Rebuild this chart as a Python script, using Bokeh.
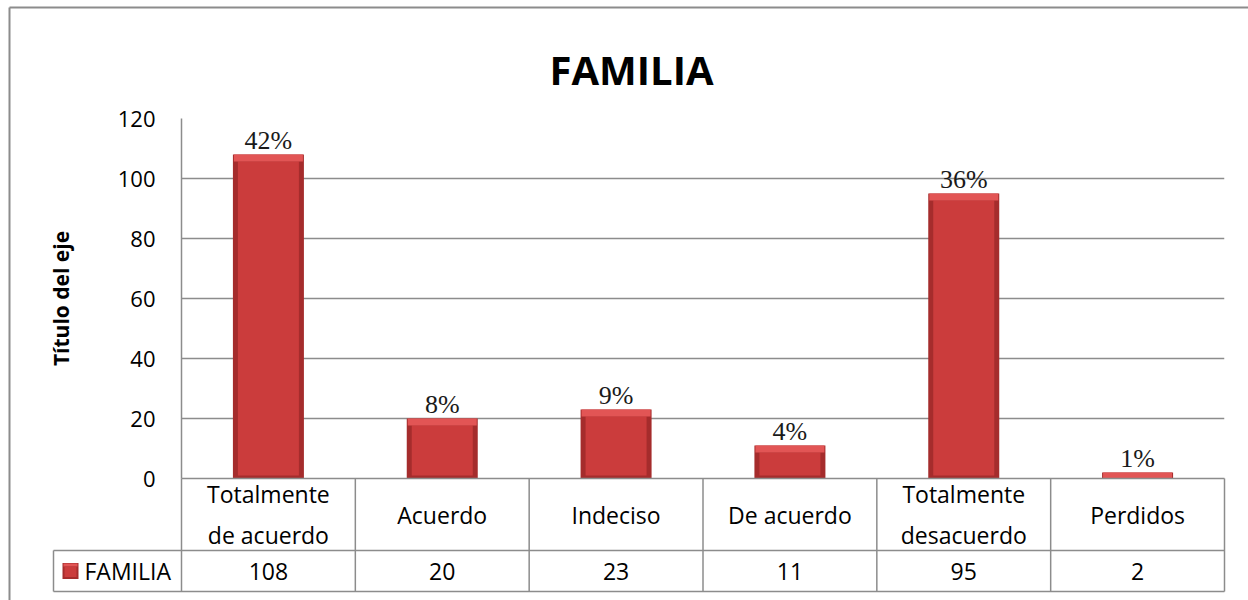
import numpy as np
from bokeh.plotting import figure
from bokeh.models import Range1d, FixedTicker
from bokeh.core.properties import value
from bokeh.embed import file_html
from bokeh.resources import INLINE

# ---- data ----
categories = ["Totalmente\nde acuerdo", "Acuerdo", "Indeciso", "De acuerdo", "Totalmente\ndesacuerdo", "Perdidos"]
counts = [108, 20, 23, 11, 95, 2]
pct_labels = ["42%", "8%", "9%", "4%", "36%", "1%"]
y_ticks = [0, 20, 40, 60, 80, 100, 120]
series_name = "FAMILIA"
chart_title = "FAMILIA"
y_title = "Título del eje"

# ---- layout constants (pixels) ----
W, H = 1248, 600
FL, FR, FT, FB = 181, 24, 118, 122          # frame borders
frame_w = W - FL - FR
frame_h = H - FT - FB
n = len(categories)
ux = frame_w / n            # px per x unit
uy = frame_h / 120.0        # px per y unit

def px_x(dx):
    return dx / ux

def px_y(dy):
    return dy / uy

SANS = "Open Sans"
GRAY = "#8c8c8c"

p = figure(width=W, height=H, output_backend="svg", toolbar_location=None,
           x_range=Range1d(0, n), y_range=Range1d(0, 120), x_axis_type=None,
           min_border_left=FL, min_border_right=FR, min_border_top=FT, min_border_bottom=FB)
p.outline_line_color = None
p.background_fill_color = "white"
p.border_fill_color = "white"
p.xgrid.visible = False
p.ygrid.ticker = FixedTicker(ticks=y_ticks)
p.ygrid.grid_line_color = GRAY
p.ygrid.grid_line_width = 1.5

ax = p.yaxis[0]
ax.ticker = FixedTicker(ticks=y_ticks)
ax.major_tick_out = 0
ax.major_tick_in = 0
ax.minor_tick_out = 0
ax.minor_tick_in = 0
ax.major_label_standoff = 26
ax.major_label_text_font = SANS
ax.major_label_text_font_size = "22px"
ax.major_label_text_color = "black"
ax.axis_line_color = GRAY
ax.axis_line_width = 1.5
ax.axis_label = y_title
ax.axis_label_text_font = SANS
ax.axis_label_text_font_style = "bold"
ax.axis_label_text_font_size = "21px"
ax.axis_label_text_color = "black"
ax.axis_label_standoff = 40

xs = np.arange(n) + 0.5
vals = np.array(counts, dtype=float)
bw = px_x(71)

# bars (layered for a bevel look)
p.vbar(x=xs, width=bw, bottom=0, top=vals, fill_color="#A52C2C", line_color=None)
inner_top = np.maximum(vals - px_y(7), px_y(2))
p.vbar(x=xs, width=bw - 2 * px_x(5), bottom=px_y(3), top=inner_top, fill_color="#CB3C3C", line_color=None)
p.vbar(x=xs, width=bw - 2 * px_x(1), bottom=np.maximum(vals - px_y(7), 0), top=vals, fill_color="#E25555", line_color=None)

# percent labels
p.text(x=xs, y=vals + px_y(14), text=pct_labels, text_font=value("Liberation Serif"),
       text_font_size="26px", text_align="center", text_baseline="alphabetic", text_color="#1a1a1a")

# ---- data table below ----
row1_bot = -px_y(72)
row2_bot = -px_y(113)
leg_left = -px_x(128)

lw = 1.5
# horizontal lines
h_x0 = [0, leg_left, leg_left]
h_x1 = [n, n, n]
h_y = [0, row1_bot, row2_bot]
r = p.segment(x0=h_x0, y0=h_y, x1=h_x1, y1=h_y, line_color=GRAY, line_width=lw)
r.level = "overlay"
# vertical lines
v_x = list(range(n + 1))
r = p.segment(x0=v_x, y0=[0] * (n + 1), x1=v_x, y1=[row2_bot] * (n + 1), line_color=GRAY, line_width=lw)
r.level = "overlay"
r = p.segment(x0=[leg_left], y0=[row1_bot], x1=[leg_left], y1=[row2_bot], line_color=GRAY, line_width=lw)
r.level = "overlay"

# category labels
r = p.text(x=xs, y=[row1_bot / 2] * n, text=categories, text_font=value(SANS), text_font_size="23px",
           text_align="center", text_baseline="middle", text_line_height=1.3, text_color="black")
r.level = "overlay"
# values
r = p.text(x=xs, y=[(row1_bot + row2_bot) / 2] * n, text=[str(c) for c in counts], text_font=value(SANS),
           text_font_size="23px", text_align="center", text_baseline="middle", text_color="black")
r.level = "overlay"
# legend key (square drawn as thick segments)
mid2 = (row1_bot + row2_bot) / 2
kx = -px_x(111)
r = p.segment(x0=[kx - px_x(8)], y0=[mid2], x1=[kx + px_x(8)], y1=[mid2], line_color="#A52C2C",
              line_width=16, line_cap="butt")
r.level = "overlay"
r = p.segment(x0=[kx - px_x(6)], y0=[mid2 - px_y(1)], x1=[kx + px_x(6)], y1=[mid2 - px_y(1)], line_color="#CB3C3C",
              line_width=10, line_cap="butt")
r.level = "overlay"
r = p.segment(x0=[kx - px_x(7)], y0=[mid2 + px_y(6)], x1=[kx + px_x(7)], y1=[mid2 + px_y(6)], line_color="#E25555",
              line_width=3, line_cap="butt")
r.level = "overlay"
r = p.text(x=[-px_x(97)], y=[mid2], text=[series_name], text_font=value(SANS), text_font_size="23px",
           text_align="left", text_baseline="middle", text_color="black")
r.level = "overlay"

# title
r = p.text(x=[px_x(631 - FL)], y=[120 + px_y(FT - 69)], text=[chart_title], text_font=value(SANS),
           text_font_style="bold", text_font_size="40px", text_align="center", text_baseline="alphabetic",
           text_color="black")
r.level = "overlay"

# outer chart border (top and left edges visible)
ox = -px_x(FL - 9)
oy = 120 + px_y(FT - 7)
r = p.segment(x0=[ox, ox], y0=[oy, oy], x1=[n + px_x(FR), ox], y1=[oy, -px_y(FB)], line_color=GRAY, line_width=2)
r.level = "overlay"

open("out.html", "w").write(file_html(p, INLINE))
